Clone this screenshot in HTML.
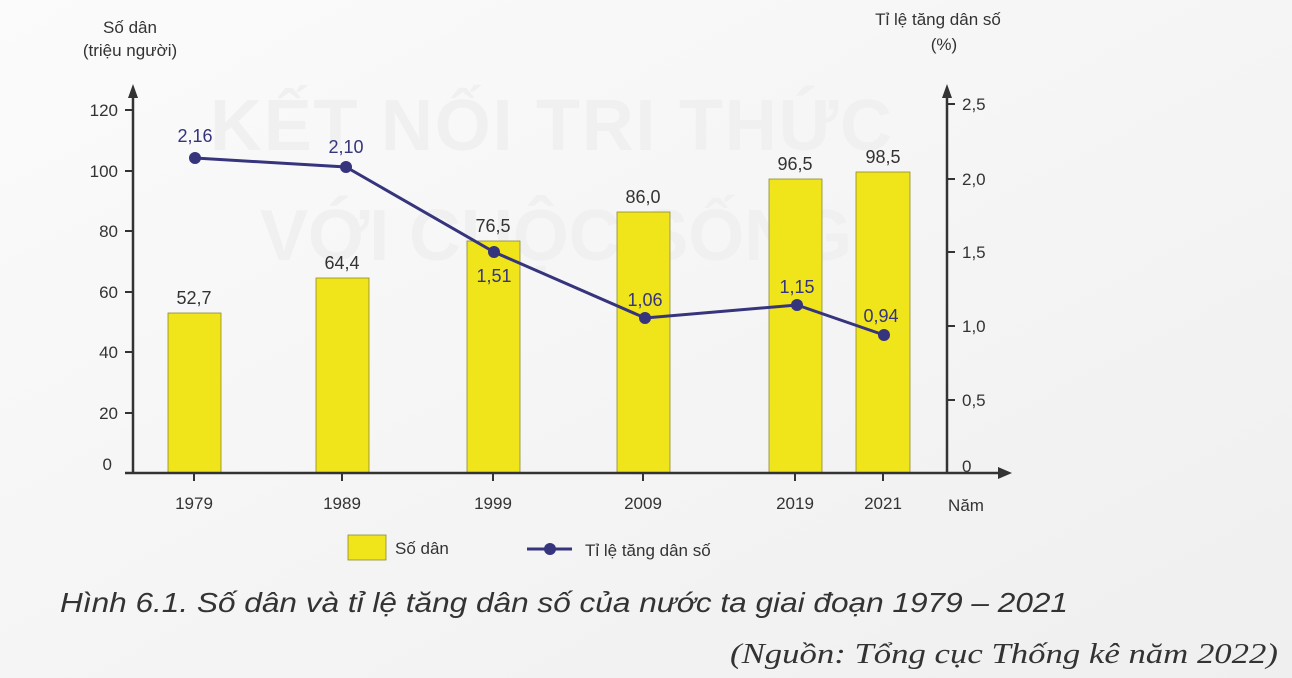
<!DOCTYPE html>
<html><head><meta charset="utf-8"><style>
html,body{margin:0;padding:0;background:#f6f6f6;}
svg{display:block}
text{font-family:"Liberation Sans","DejaVu Sans",sans-serif;fill:#333}
</style></head><body>
<svg width="1292" height="678" viewBox="0 0 1292 678" xmlns="http://www.w3.org/2000/svg">
<defs><linearGradient id="bg" x1="0" y1="0" x2="1" y2="1"><stop offset="0" stop-color="#fbfbfb"/><stop offset="1" stop-color="#efefef"/></linearGradient></defs>
<rect width="1292" height="678" fill="url(#bg)"/>
<text x="555" y="150" font-size="72" font-weight="bold" style="fill:#f0f0f0;letter-spacing:8px" text-anchor="middle" textLength="690">KẾT NỐI TRI THỨC</text>
<text x="560" y="260" font-size="72" font-weight="bold" style="fill:#f0f0f0;letter-spacing:8px" text-anchor="middle" textLength="600">VỚI CUỘC SỐNG</text>
<g fill="#efe51a" stroke="#8c8a30" stroke-width="0.8">
<rect x="168" y="313" width="53" height="160"/>
<rect x="316" y="278" width="53" height="195"/>
<rect x="467" y="241" width="53" height="232"/>
<rect x="617" y="212" width="53" height="261"/>
<rect x="769" y="179" width="53" height="294"/>
<rect x="856" y="172" width="54" height="301"/>
</g>
<g stroke="#333" stroke-width="2.5" fill="none">
<line x1="133" y1="474" x2="133" y2="88"/>
<line x1="947" y1="474" x2="947" y2="88"/>
<line x1="125" y1="473" x2="1000" y2="473"/>
</g>
<path d="M128 98 L133 84 L138 98 Z" fill="#333"/>
<path d="M942 98 L947 84 L952 98 Z" fill="#333"/>
<path d="M998 467 L1012 473 L998 479 Z" fill="#333"/>
<g stroke="#333" stroke-width="2">
<line x1="125" y1="110" x2="133" y2="110"/><line x1="125" y1="171" x2="133" y2="171"/><line x1="125" y1="231" x2="133" y2="231"/><line x1="125" y1="292" x2="133" y2="292"/><line x1="125" y1="352" x2="133" y2="352"/><line x1="125" y1="413" x2="133" y2="413"/>
<line x1="947" y1="104" x2="955" y2="104"/><line x1="947" y1="179" x2="955" y2="179"/><line x1="947" y1="252" x2="955" y2="252"/><line x1="947" y1="326" x2="955" y2="326"/><line x1="947" y1="400" x2="955" y2="400"/>
<line x1="194" y1="473" x2="194" y2="481"/><line x1="342" y1="473" x2="342" y2="481"/><line x1="493" y1="473" x2="493" y2="481"/><line x1="643" y1="473" x2="643" y2="481"/><line x1="795" y1="473" x2="795" y2="481"/><line x1="883" y1="473" x2="883" y2="481"/>
</g>
<g font-size="17" text-anchor="end">
<text x="118" y="116">120</text><text x="118" y="177">100</text><text x="118" y="237">80</text><text x="118" y="298">60</text><text x="118" y="358">40</text><text x="118" y="419">20</text><text x="112" y="470">0</text>
</g>
<g font-size="17">
<text x="962" y="110">2,5</text><text x="962" y="185">2,0</text><text x="962" y="258">1,5</text><text x="962" y="332">1,0</text><text x="962" y="406">0,5</text><text x="962" y="472">0</text>
</g>
<g font-size="17" text-anchor="middle">
<text x="194" y="509">1979</text><text x="342" y="509">1989</text><text x="493" y="509">1999</text><text x="643" y="509">2009</text><text x="795" y="509">2019</text><text x="883" y="509">2021</text>
<text x="966" y="511">Năm</text>
<text x="130" y="33">Số dân</text><text x="130" y="56">(triệu người)</text>
<text x="938" y="25">Tỉ lệ tăng dân số</text><text x="944" y="50">(%)</text>
</g>
<g font-size="18" text-anchor="middle">
<text x="194" y="304">52,7</text><text x="342" y="269">64,4</text><text x="493" y="232">76,5</text><text x="643" y="203">86,0</text><text x="795" y="170">96,5</text><text x="883" y="163">98,5</text>
</g>
<polyline points="195,158 346,167 494,252 645,318 797,305 884,335" fill="none" stroke="#35347c" stroke-width="3"/>
<g fill="#35347c"><circle cx="195" cy="158" r="6"/><circle cx="346" cy="167" r="6"/><circle cx="494" cy="252" r="6"/><circle cx="645" cy="318" r="6"/><circle cx="797" cy="305" r="6"/><circle cx="884" cy="335" r="6"/></g>
<g font-size="18" text-anchor="middle">
<text x="195" y="142" style="fill:#35347c">2,16</text><text x="346" y="153" style="fill:#35347c">2,10</text><text x="494" y="282" style="fill:#35347c">1,51</text><text x="645" y="306" style="fill:#35347c">1,06</text><text x="797" y="293" style="fill:#35347c">1,15</text><text x="881" y="322" style="fill:#35347c">0,94</text>
</g>
<rect x="348" y="535" width="38" height="25" fill="#efe51a" stroke="#8c8a30" stroke-width="0.8"/>
<text x="395" y="554" font-size="17">Số dân</text>
<line x1="527" y1="549" x2="572" y2="549" stroke="#35347c" stroke-width="3"/>
<circle cx="550" cy="549" r="6" fill="#35347c"/>
<text x="585" y="556" font-size="17">Tỉ lệ tăng dân số</text>
<text x="60" y="612" font-size="28" font-style="italic" textLength="1008" lengthAdjust="spacingAndGlyphs">Hình 6.1. Số dân và tỉ lệ tăng dân số của nước ta giai đoạn 1979 – 2021</text>
<text x="730" y="663" font-size="29" font-style="italic" textLength="548" lengthAdjust="spacingAndGlyphs" style="font-family:'Liberation Serif',serif">(Nguồn: Tổng cục Thống kê năm 2022)</text>
</svg>
</body></html>
